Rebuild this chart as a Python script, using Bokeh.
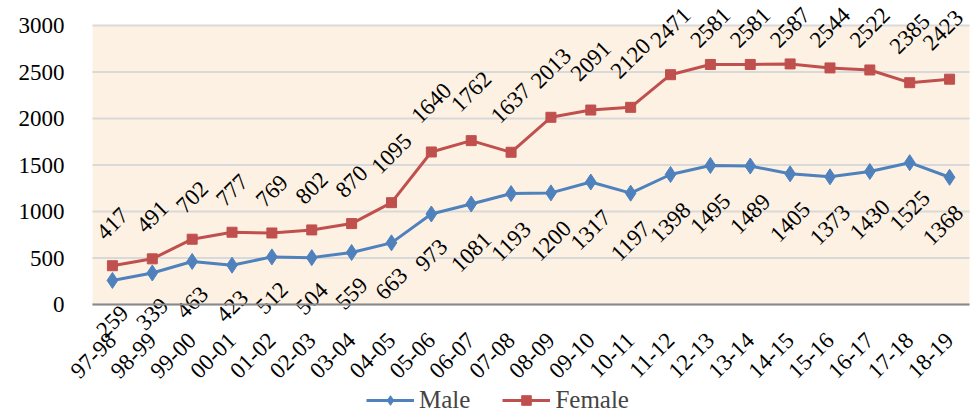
import math
from bokeh.plotting import figure
from bokeh.models import (Legend, LegendItem, ColumnDataSource, FixedTicker,
                          BoxAnnotation, Range1d)
from bokeh.core.properties import value
from bokeh.embed import file_html
from bokeh.resources import INLINE

years = ["97-98", "98-99", "99-00", "00-01", "01-02", "02-03", "03-04", "04-05",
         "05-06", "06-07", "07-08", "08-09", "09-10", "10-11", "11-12", "12-13",
         "13-14", "14-15", "15-16", "16-17", "17-18", "18-19"]
male = [259, 339, 463, 423, 512, 504, 559, 663, 973, 1081, 1193, 1200, 1317,
        1197, 1398, 1495, 1489, 1405, 1373, 1430, 1525, 1368]
female = [417, 491, 702, 777, 769, 802, 870, 1095, 1640, 1762, 1637, 2013, 2091,
          2120, 2471, 2581, 2581, 2587, 2544, 2522, 2385, 2423]
y_ticks = [0, 500, 1000, 1500, 2000, 2500, 3000]

FONT = "Liberation Serif"
BLUE = "#4F81BD"
RED = "#C0504D"
W, H = 971, 414
LEFT, RIGHT = 92, 969          # screen columns of the plot area edges
TOP, BOTTOM = 25, 304          # screen rows of 3000 and 0
n = len(years)
idx = list(range(n))
YMAX = y_ticks[-1]
ppu = (BOTTOM - TOP) / YMAX
y_hi = YMAX + TOP / ppu
y_lo = -(H - BOTTOM) / ppu
ppx = (RIGHT - LEFT) / n
x_lo = -0.5 - LEFT / ppx
x_hi = n - 0.5 + (W - RIGHT) / ppx

mt = [str(v) for v in male]
ft = [str(v) for v in female]
# label offsets in screen pixels; labels are kept inside the chart edges
m_off = [20 + 7 * len(t) for t in mt]
f_off = [-min(21 + 7 * len(t), (BOTTOM - v * ppu) - 27) for t, v in zip(ft, female)]


def x_shift(texts):
    out = []
    for i, t in zip(idx, texts):
        right = LEFT + ppx * (i + 0.5) + (11.5 * len(t) + 26) / 2.83
        out.append(min(0.0, RIGHT - 1 - right))
    return out


src = ColumnDataSource(dict(x=idx, m=male, f=female, mt=mt, ft=ft,
                            mo=m_off, fo=f_off,
                            mx=x_shift(mt), fx=x_shift(ft)))
grid_src = ColumnDataSource(dict(y=y_ticks, x0=[-0.5] * len(y_ticks),
                                 x1=[n - 0.5] * len(y_ticks)))

p = figure(x_range=Range1d(x_lo, x_hi), y_range=Range1d(y_lo, y_hi),
           width=W, height=H, output_backend="svg", toolbar_location=None,
           min_border=0, background_fill_color="white",
           border_fill_color="white", outline_line_color=None)
p.xgrid.visible = False
p.ygrid.visible = False

p.add_layout(BoxAnnotation(bottom=0, top=YMAX, left=-0.5, right=n - 0.5,
                           fill_color="#FCF1E3", fill_alpha=1,
                           line_color=None, level="image"))
p.segment(x0="x0", x1="x1", y0="y", y1="y", source=grid_src,
          line_color="#D9D9D9", line_width=2, level="underlay")

for ax in (p.xaxis[0], p.yaxis[0]):
    ax.major_label_text_font = FONT
    ax.major_label_text_font_size = "23px"
    ax.major_label_text_color = "black"
    ax.major_tick_line_color = None
    ax.minor_tick_line_color = None

ya = p.yaxis[0]
ya.ticker = FixedTicker(ticks=y_ticks)
ya.fixed_location = -0.5
ya.axis_line_color = None
ya.major_label_standoff = 22

xa = p.xaxis[0]
xa.ticker = FixedTicker(ticks=idx)
xa.major_label_overrides = {i: y for i, y in zip(idx, years)}
xa.fixed_location = 0
xa.bounds = (-0.5, n - 0.5)
xa.axis_line_color = "#898989"
xa.axis_line_width = 2
xa.major_label_orientation = math.pi / 4
xa.major_label_standoff = 26

lm = p.line("x", "m", source=src, line_color=BLUE, line_width=3)
sm = p.scatter("x", "m", source=src, marker="diamond", size=16, fill_color=BLUE, line_color=BLUE)
lf = p.line("x", "f", source=src, line_color=RED, line_width=3)
sf = p.scatter("x", "f", source=src, marker="square", size=10, fill_color=RED, line_color=RED)

p.text("x", "m", text="mt", source=src, angle=math.pi / 4, text_align="center",
       text_baseline="middle", y_offset="mo", x_offset="mx", text_font=value(FONT),
       text_font_size="23px", text_color="black")
p.text("x", "f", text="ft", source=src, angle=math.pi / 4, text_align="center",
       text_baseline="middle", y_offset="fo", x_offset="fx", text_font=value(FONT),
       text_font_size="23px", text_color="black")

legend = Legend(items=[LegendItem(label="Male", renderers=[lm, sm]),
                       LegendItem(label="Female", renderers=[lf, sf])],
                orientation="horizontal", location=(366, 0),
                label_text_font=FONT, label_text_font_size="25px",
                glyph_width=48, glyph_height=24, label_standoff=5,
                spacing=32, padding=1, margin=0,
                border_line_color=None, background_fill_alpha=0)
p.add_layout(legend, "center")

open("out.html", "w").write(file_html(p, INLINE))
